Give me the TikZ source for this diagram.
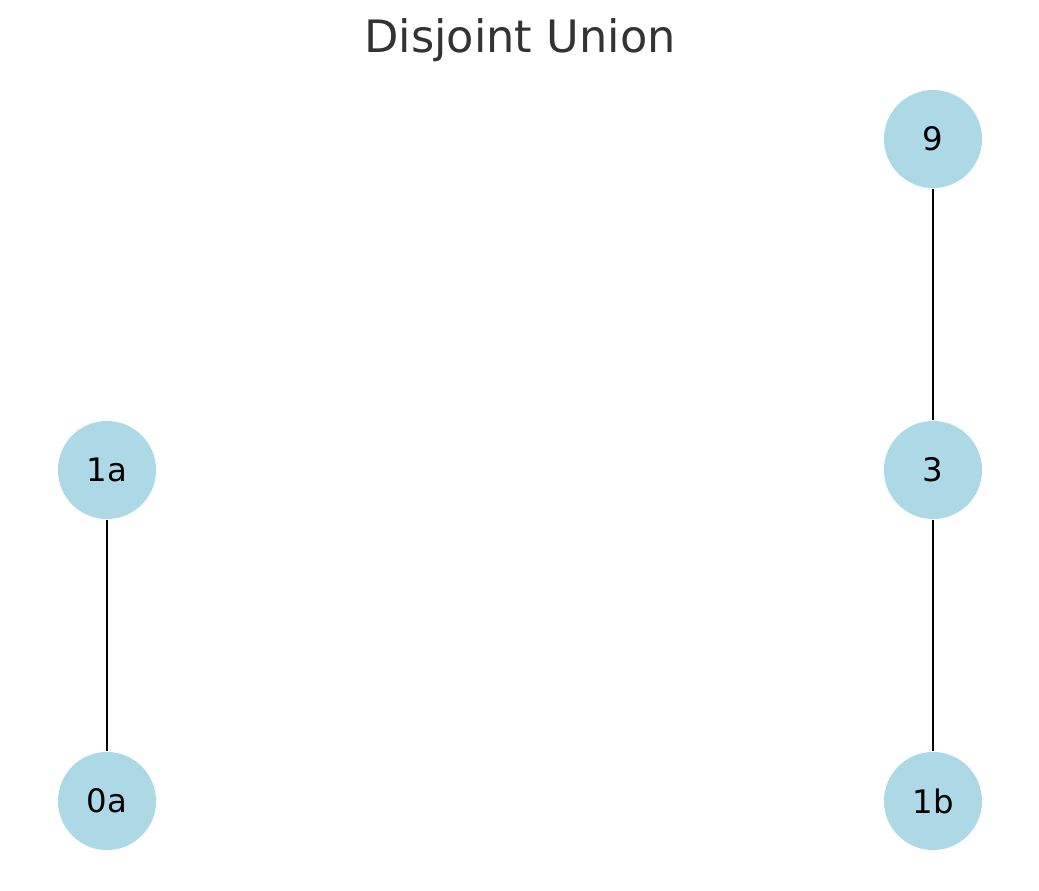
\documentclass[tikz,border=0pt]{standalone}
\usepackage{fontspec}
\setmainfont{DejaVu Sans}
\usepackage{tikz}
\definecolor{titlegray}{RGB}{51, 51, 51}
\definecolor{nodeblue}{RGB}{173, 216, 230}
\tikzstyle{graph_node}=[circle, fill=nodeblue, draw=none, minimum size=0.98cm, inner sep=0pt,
    text=black, font=\fontsize{9.2}{11}\selectfont]
\tikzstyle{graph_edge}=[draw=black, line width=0.6pt]

\begin{document}
\begin{tikzpicture}[x=0.01cm, y=-0.01cm]
  % Fix the page to the size of the reference
  \useasboundingbox (0,0) rectangle (1039,890);

  % Title
  \node[text=titlegray, font=\fontsize{12.7}{15}\selectfont] (title) at (520,40) {Disjoint Union};

  % Left component
  \node[graph_node] (n1a) at (107,470) {1a};
  \node[graph_node] (n0a) at (107,801) {0a};

  % Right component
  \node[graph_node] (n9) at (933,139) {9};
  \node[graph_node] (n3) at (933,470) {3};
  \node[graph_node] (n1b) at (933,801) {1b};

  % Edges
  \draw[graph_edge] (n1a) -- (n0a);
  \draw[graph_edge] (n9) -- (n3);
  \draw[graph_edge] (n3) -- (n1b);

\end{tikzpicture}
\end{document}
